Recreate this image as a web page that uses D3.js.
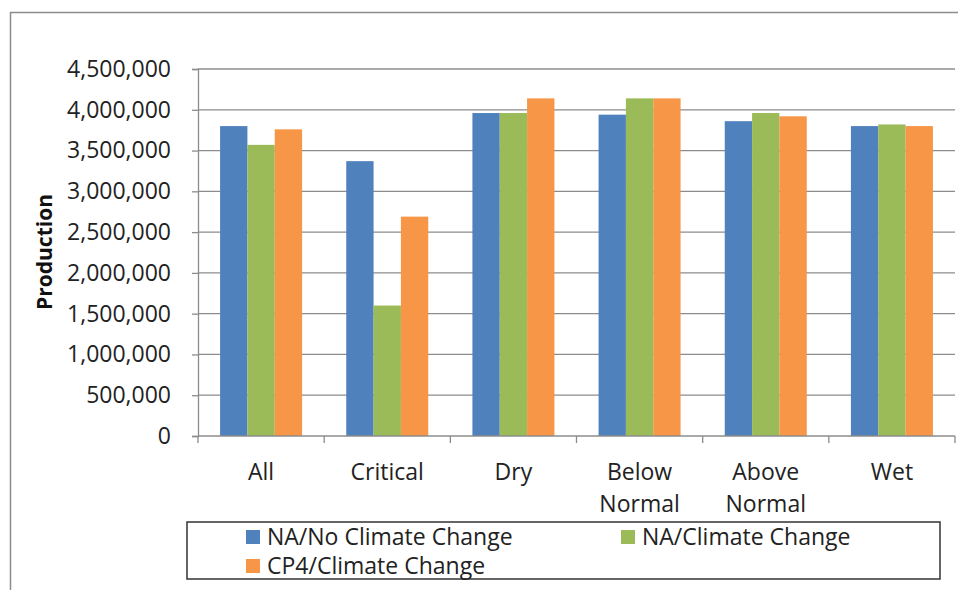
<!DOCTYPE html>
<html><head><meta charset="utf-8">
<script src="https://cdn.jsdelivr.net/npm/d3@7"></script>
<style>body{margin:0;background:#fff;} svg{display:block;font-family:"Open Sans",sans-serif;}</style>
</head><body><svg id="c" width="958" height="590"></svg>
<script>
const categories = [["All"],["Critical"],["Dry"],["Below","Normal"],["Above","Normal"],["Wet"]];
const seriesNames = ["NA/No Climate Change","NA/Climate Change","CP4/Climate Change"];
const noClimate = [3800000,3370000,3960000,3940000,3860000,3800000];
const naClimate = [3570000,1600000,3960000,4140000,3960000,3820000];
const cp4Climate = [3760000,2690000,4140000,4140000,3920000,3800000];
const yTicks = [0,500000,1000000,1500000,2000000,2500000,3000000,3500000,4000000,4500000];
const colors = ["#4F81BD","#9BBB59","#F79646"];
const series = [noClimate, naClimate, cp4Climate];

(function(){
const svg = d3.select("#c");
svg.append("path").attr("d","M10.5,600 V12.5 H970").attr("fill","none").attr("stroke","#8c8c8c").attr("stroke-width",1.5);

const pL=198, pR=955, pT=69, pB=436;
const x = d3.scaleBand().domain(categories.map((d,i)=>i)).range([pL,pR]).paddingInner(0.35).paddingOuter(0.175);
const y = d3.scaleLinear().domain([0,4500000]).range([pB,pT]);
const xs = d3.scaleBand().domain([0,1,2]).range([0,x.bandwidth()]);

svg.append("g").selectAll("line").data(yTicks.slice(1)).join("line")
  .attr("x1",pL).attr("x2",pR).attr("y1",d=>y(d)).attr("y2",d=>y(d))
  .attr("stroke","#8c8c8c").attr("stroke-width",1.3);

const g = svg.append("g");
series.forEach((s,si)=>{
  g.selectAll(null).data(s).join("rect")
    .attr("x",(d,i)=>x(i)+xs(si)).attr("width",xs.bandwidth())
    .attr("y",d=>y(d)).attr("height",d=>pB-y(d)).attr("fill",colors[si]);
});

const ya = svg.append("g").attr("transform",`translate(${pL},0)`)
  .call(d3.axisLeft(y).tickValues(yTicks).tickFormat(d3.format(",")).tickSizeOuter(0).tickSize(6).tickPadding(21));
ya.selectAll("line,path").attr("stroke","#8c8c8c").attr("stroke-width",1.3);
ya.selectAll("text").attr("font-size",23).attr("fill","#222").attr("font-family","'Open Sans',sans-serif");

const step = x.step();
const xa = svg.append("g").attr("transform",`translate(0,${pB})`);
xa.append("line").attr("x1",pL).attr("x2",pR).attr("stroke","#8c8c8c").attr("stroke-width",1.3);
xa.selectAll("line.t").data(d3.range(categories.length+1)).join("line").attr("class","t")
  .attr("x1",i=>pL+i*step).attr("x2",i=>pL+i*step).attr("y1",0).attr("y2",7)
  .attr("stroke","#8c8c8c").attr("stroke-width",1.3);
const xl = xa.selectAll("text").data(categories).join("text")
  .attr("text-anchor","middle").attr("font-size",23).attr("fill","#222")
  .attr("transform",(d,i)=>`translate(${x(i)+x.bandwidth()/2},0)`);
xl.selectAll("tspan").data(d=>d).join("tspan").attr("x",0).attr("y",(d,j)=>44+j*32).text(d=>d);

svg.append("text").attr("transform","translate(52,252) rotate(-90)").attr("text-anchor","middle")
  .attr("font-size",21).attr("font-weight","bold").attr("fill","#111").text("Production");

svg.append("rect").attr("x",187).attr("y",522).attr("width",753).attr("height",57)
  .attr("fill","#fff").attr("stroke","#333").attr("stroke-width",1.5);
const legPos = [[246,537],[621,537],[246,566]];
seriesNames.forEach((n,i)=>{
  const [lx,ly]=legPos[i];
  svg.append("rect").attr("x",lx).attr("y",ly-7).attr("width",14).attr("height",14).attr("fill",colors[i]);
  svg.append("text").attr("x",lx+21).attr("y",ly+8).attr("font-size",23).attr("fill","#222").text(n);
});
})();
</script></body></html>
